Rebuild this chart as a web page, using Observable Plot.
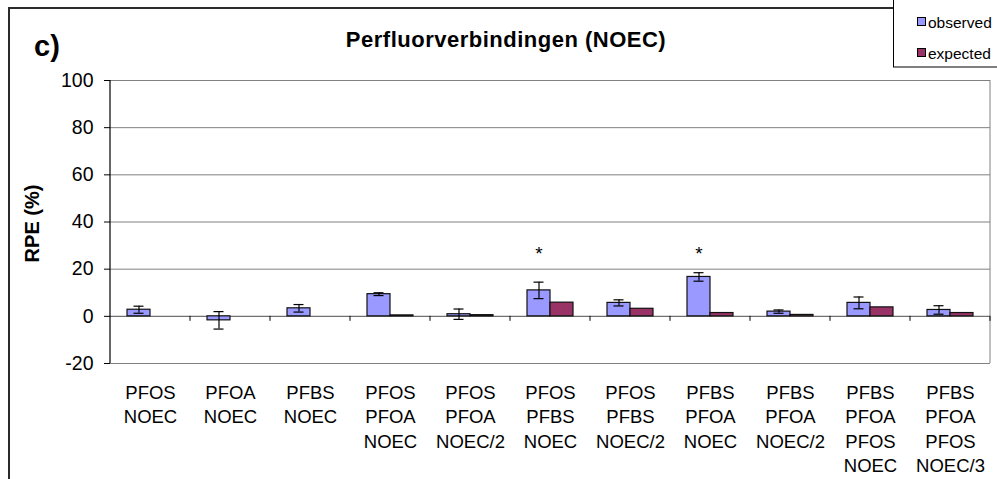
<!DOCTYPE html>
<html>
<head>
<meta charset="utf-8">
<script src="https://cdn.jsdelivr.net/npm/d3@7"></script>
<script src="https://cdn.jsdelivr.net/npm/@observablehq/plot@0.6"></script>
<style>
  html, body { margin: 0; padding: 0; background: #fff; }
  svg { display: block; }
</style>
</head>
<body>
<div id="chart"></div>
<script>
// Mixture groups (x axis), one line per component
const categories = [
  "PFOS\nNOEC",
  "PFOA\nNOEC",
  "PFBS\nNOEC",
  "PFOS\nPFOA\nNOEC",
  "PFOS\nPFOA\nNOEC/2",
  "PFOS\nPFBS\nNOEC",
  "PFOS\nPFBS\nNOEC/2",
  "PFBS\nPFOA\nNOEC",
  "PFBS\nPFOA\nNOEC/2",
  "PFBS\nPFOA\nPFOS\nNOEC",
  "PFBS\nPFOA\nPFOS\nNOEC/3"
];
// RPE (%) per group
const observed    = [2.8, -1.7, 3.4, 9.4, 0.9, 11.0, 5.7, 16.7, 2.0, 5.7, 2.7];
const observedErr = [1.5, 3.7, 1.6, 0.6, 2.2, 3.5, 1.3, 1.8, 0.7, 2.5, 1.8];
const expected    = [null, null, null, 0.4, 0.5, 5.8, 3.2, 1.4, 0.6, 3.8, 1.4];
// groups marked with an asterisk
const significant = [false, false, false, false, false, true, false, true, false, false, false];
const starLevel = 28;

const seriesNames = ["observed", "expected"];
const seriesColors = ["#9999FF", "#993366"];
const yTicks = [-20, 0, 20, 40, 60, 80, 100];

const obsRows = categories.map((c, i) => ({cat: c, series: "observed", value: observed[i], err: observedErr[i]}));
const expRows = categories.map((c, i) => ({cat: c, series: "expected", value: expected[i]})).filter(d => d.value != null);
const starRows = obsRows.filter((d, i) => significant[i]);

const font = "Liberation Sans, Arial, Helvetica, sans-serif";

const plot = Plot.plot({
  width: 997,
  height: 479,
  marginLeft: 107,
  marginRight: 5,
  marginTop: 80,
  marginBottom: 116,
  style: {fontFamily: font, background: "white", overflow: "visible"},
  fx: {domain: categories, padding: 0, axis: null},
  x: {domain: seriesNames, paddingInner: 0, paddingOuter: 0.68, axis: null},
  y: {domain: [-20, 100], axis: null},
  color: {domain: seriesNames, range: seriesColors},
  marks: [
    Plot.ruleY(yTicks.filter(t => t !== 0), {stroke: "#808080", strokeWidth: 1}),
    Plot.ruleY([0], {stroke: "#707070", strokeWidth: 1.3}),
    Plot.axisY({ticks: yTicks, tickSize: 6, tickPadding: 11, fontSize: 19.5, tickFormat: d => String(d), label: null, stroke: "#000"}),
    Plot.barY(obsRows, {fx: "cat", x: "series", y: "value", fill: d => d.series, stroke: "#111", strokeWidth: 1.2}),
    Plot.barY(expRows, {fx: "cat", x: "series", y: "value", fill: d => d.series, stroke: "#111", strokeWidth: 1.2}),
    Plot.ruleX(obsRows, {fx: "cat", x: "series", y1: d => d.value - d.err, y2: d => d.value + d.err, stroke: "#000", strokeWidth: 1.2}),
    Plot.tickY(obsRows, {fx: "cat", x: "series", y: d => d.value + d.err, insetLeft: 6.5, insetRight: 6.5, stroke: "#000", strokeWidth: 1.2}),
    Plot.tickY(obsRows, {fx: "cat", x: "series", y: d => d.value - d.err, insetLeft: 6.5, insetRight: 6.5, stroke: "#000", strokeWidth: 1.2}),
    Plot.text(starRows, {fx: "cat", x: "series", y: () => starLevel, text: () => "*", fontSize: 19, dy: 4}),
    Plot.text(categories, {fx: d => d, text: d => d, frameAnchor: "bottom", lineAnchor: "top", dy: 18, fontSize: 18.5, lineHeight: 1.32})
  ]
});

document.getElementById("chart").appendChild(plot);

const svg = d3.select(plot);
const fx = plot.scale("fx");
const y = plot.scale("y");
const left = fx.apply(categories[0]);
const right = fx.apply(categories[categories.length - 1]) + fx.bandwidth;
const y0 = y.apply(0);
const yTop = y.apply(100);
const yBot = y.apply(-20);

const deco = svg.append("g").attr("text-anchor", "start");

// plot area: y axis line and right border
deco.append("line").attr("x1", left).attr("x2", left).attr("y1", yTop).attr("y2", yBot)
  .attr("stroke", "#000").attr("stroke-width", 1.2);
deco.append("line").attr("x1", right).attr("x2", right).attr("y1", yTop).attr("y2", yBot)
  .attr("stroke", "#808080").attr("stroke-width", 1);

// small ticks at group boundaries on the zero line
categories.forEach(c => {
  const x = fx.apply(c) + fx.bandwidth;
  deco.append("line").attr("x1", x).attr("x2", x).attr("y1", y0).attr("y2", y0 + 5)
    .attr("stroke", "#000").attr("stroke-width", 1);
});

// outer chart border
deco.append("rect").attr("x", 9).attr("y", 8).attr("width", 1100).attr("height", 600)
  .attr("fill", "none").attr("stroke", "#2b2b2b").attr("stroke-width", 2);

// panel letter and title
deco.append("text").attr("x", 34).attr("y", 56).attr("font-size", 29).attr("font-weight", "bold")
  .attr("font-family", font).text("c)");
deco.append("text").attr("x", 506).attr("y", 47).attr("font-size", 22).attr("font-weight", "bold")
  .attr("letter-spacing", 0.5)
  .attr("text-anchor", "middle").attr("font-family", font).text("Perfluorverbindingen (NOEC)");

// y axis title
deco.append("text").attr("transform", `translate(39,${(yTop + yBot) / 2 + 2}) rotate(-90)`)
  .attr("font-size", 20).attr("font-weight", "bold").attr("text-anchor", "middle")
  .attr("font-family", font).text("RPE (%)");

// legend
const lg = deco.append("g");
lg.append("rect").attr("x", 893.5).attr("y", -2).attr("width", 120).attr("height", 69)
  .attr("fill", "#fff").attr("stroke", "#000").attr("stroke-width", 1);
seriesNames.forEach((s, i) => {
  const cy = 22 + i * 31;
  lg.append("rect").attr("x", 917.5).attr("y", cy - 4.5).attr("width", 8).attr("height", 8)
    .attr("fill", seriesColors[i]).attr("stroke", "#000").attr("stroke-width", 1);
  lg.append("text").attr("x", 928).attr("y", cy + 5.5).attr("font-size", 15.5)
    .attr("text-anchor", "start").attr("font-family", font).text(s);
});
</script>
</body>
</html>
